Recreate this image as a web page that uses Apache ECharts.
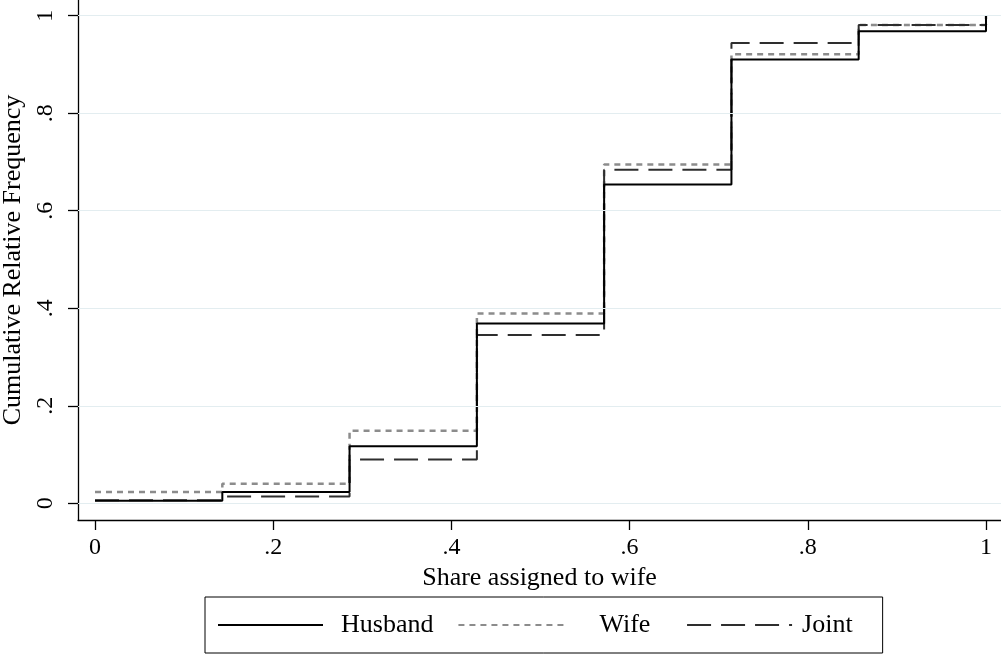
<!DOCTYPE html>
<html>
<head>
<meta charset="utf-8">
<script src="https://cdn.jsdelivr.net/npm/echarts@6/dist/echarts.min.js"></script>
<style>
html,body{margin:0;padding:0;background:#fff;}
#chart{width:1001px;height:656px;}
</style>
</head>
<body>
<div id="chart"></div>
<script>
// Data
const xShares = [0, 0.1429, 0.2857, 0.4286, 0.5714, 0.7143, 0.8571, 1];
const husband = [0.005, 0.023, 0.117, 0.369, 0.654, 0.910, 0.968, 1];
const wife    = [0.023, 0.040, 0.149, 0.389, 0.695, 0.921, 0.981, 1];
const joint   = [0.006, 0.014, 0.090, 0.345, 0.684, 0.944, 0.981, 1];
const xTicks = [0, 0.2, 0.4, 0.6, 0.8, 1];
const yTicks = [0, 0.2, 0.4, 0.6, 0.8, 1];
const seriesNames = ['Husband', 'Wife', 'Joint'];

const FONT = 'Liberation Serif';
const fmt = v => (v === 0 ? '0' : v === 1 ? '1' : String(v).replace(/^0/, ''));
const pairs = ys => xShares.map((x, i) => [x, ys[i]]);
const legendText = [
  {padding: [0, 0, 0, 13]},
  {padding: [0, 0, 0, 31]},
  {padding: [0, 0, 0, 5]}
];

const chart = echarts.init(document.getElementById('chart'), null, {renderer: 'canvas'});
chart.setOption({
  backgroundColor: '#fff',
  animation: false,
  grid: {left: 78, right: 0, top: 0, bottom: 136, containLabel: false, outerBoundsMode: 'none'},
  legend: {
    left: 205, top: 597,
    padding: [15, 30, 15, 12],
    borderColor: '#000', borderWidth: 1,
    itemWidth: 105, itemHeight: 14, itemGap: 24,
    itemStyle: {opacity: 0},
    formatter: name => (name === 'Wife' ? name + ' \u2009' : name),
    textStyle: {fontFamily: FONT, fontSize: 26, color: '#000'},
    data: seriesNames.map((n, i) => ({name: n, textStyle: legendText[i]}))
  },
  xAxis: {
    type: 'value', min: -0.01908, max: 1.01684,
    name: 'Share assigned to wife', nameLocation: 'middle', nameGap: 45,
    nameTextStyle: {fontFamily: FONT, fontSize: 26, color: '#000'},
    axisLine: {show: true, onZero: false, lineStyle: {color: '#000', width: 1.3}},
    axisTick: {show: true, length: 10, customValues: xTicks, lineStyle: {color: '#000', width: 1.3}},
    axisLabel: {customValues: xTicks, formatter: fmt, margin: 16, fontFamily: FONT, fontSize: 24, color: '#000'},
    splitLine: {show: false}
  },
  yAxis: {
    type: 'value', min: -0.03425, max: 1.0322,
    name: 'Cumulative Relative Frequency', nameLocation: 'middle', nameGap: 48, nameRotate: 90,
    nameTextStyle: {fontFamily: FONT, fontSize: 26, color: '#000'},
    axisLine: {show: true, onZero: false, lineStyle: {color: '#000', width: 1.3}},
    axisTick: {show: true, length: 10, customValues: yTicks, lineStyle: {color: '#000', width: 1.3}},
    axisLabel: {customValues: yTicks, formatter: fmt, rotate: 90, margin: 20, fontFamily: FONT, fontSize: 24, color: '#000'},
    splitLine: {show: false}
  },
  series: [
    {
      name: '_grid', type: 'line', data: [], silent: true, z: 0,
      markLine: {
        silent: true, symbol: ['none', 'none'], label: {show: false},
        lineStyle: {color: '#e3edf0', width: 1.2, type: 'solid'},
        data: yTicks.map(v => ({yAxis: v}))
      }
    },
    {
      name: 'Husband', type: 'line', step: 'end', showSymbol: false, symbol: 'none', z: 3,
      data: pairs(husband),
      lineStyle: {color: '#000', width: 2, type: 'solid'},
      itemStyle: {color: '#000'}
    },
    {
      name: 'Wife', type: 'line', step: 'end', showSymbol: false, symbol: 'none', z: 2,
      data: pairs(wife),
      lineStyle: {color: '#8c8c8c', width: 2.5, type: [6, 5]},
      itemStyle: {color: '#8c8c8c'}
    },
    {
      name: 'Joint', type: 'line', step: 'end', showSymbol: false, symbol: 'none', z: 2,
      data: pairs(joint),
      lineStyle: {color: '#2e2e2e', width: 2, type: [24, 10]},
      itemStyle: {color: '#2e2e2e'}
    }
  ]
});
</script>
</body>
</html>
